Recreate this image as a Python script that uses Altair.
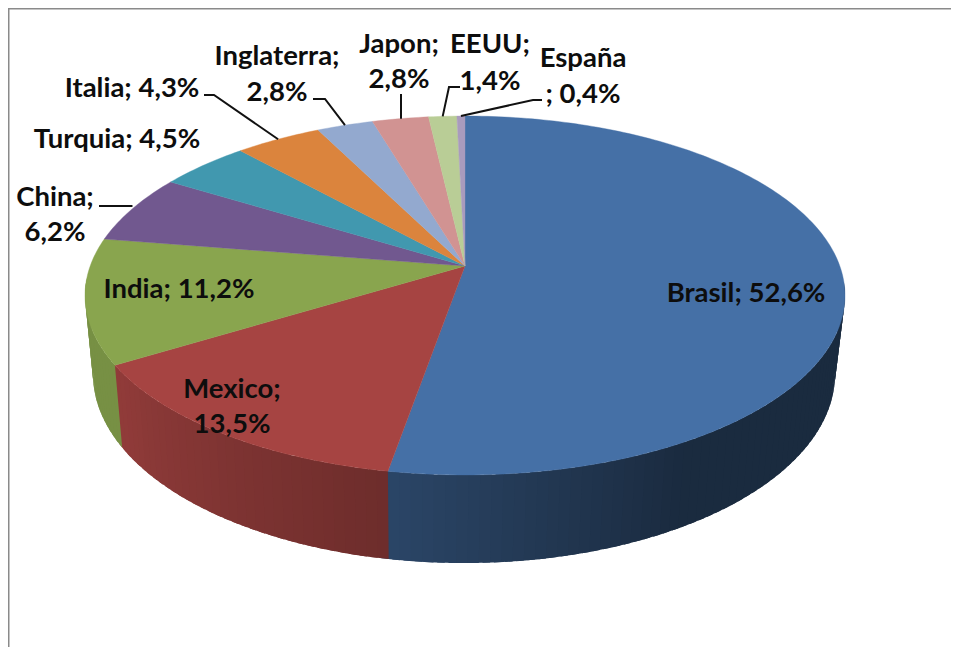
import math
import altair as alt

# --- values ---
paises = ["Brasil", "Mexico", "India", "China", "Turquia", "Italia", "Inglaterra", "Japon", "EEUU", "España"]
porcentajes = [52.6, 13.5, 11.2, 6.2, 4.5, 4.3, 2.8, 2.8, 1.4, 0.4]
colores = ["#4570a6", "#a64442", "#89a54e", "#71588f", "#4198af", "#db843d", "#93a9cf", "#d19392", "#b9cd96", "#a99bbd"]

# --- layout (page pixels; the canvas starts 8px in) ---
OFF = 8
K = -0.1643
TOP = dict(cx=465.0, cy=266.0, a=374.8, b=174.6)
BOT = dict(cx=464.0, cy=343.0, a=366.0, b=183.9)
FONT = "Lato"
FSIZE = 27.5


def rim(theta_deg, face):
    t = math.radians(theta_deg)
    u, v = math.sin(t), -math.cos(t)
    den = 1 + K * v
    return [round(face["cx"] + face["a"] * u / den - OFF, 2),
            round(face["cy"] + face["b"] * v / den - OFF, 2)]


def shade(hex_color, f):
    r, g, b = (int(hex_color[i:i + 2], 16) for i in (1, 3, 5))
    return "#%02x%02x%02x" % (round(r * f), round(g * f), round(b * f))


def wall_factor(theta):
    if theta < 150:
        return 0.38
    if theta < 190:
        return 0.38 + (theta - 150) / 40 * 0.24
    if theta < 235:
        return 0.66 + (theta - 190) / 45 * 0.20
    return 0.87


def feature(kind, coords, color):
    return {"type": "Feature", "properties": {"color": color},
            "geometry": {"type": kind, "coordinates": coords}}


total = sum(porcentajes)
edges = [0.0]
for p in porcentajes:
    edges.append(edges[-1] + p / total * 360)

# wall strips, each overlapping the next so no seam shows; later strips paint over
wall = []
for i, col in enumerate(colores):
    a0, a1 = edges[i], edges[i + 1]
    lo, hi = max(a0, 95), min(a1, 265)
    if hi <= lo:
        continue
    n = max(1, int(math.ceil((hi - lo) / 1.5)))
    for j in range(n):
        t0 = lo + (hi - lo) * j / n
        t1 = min(hi + 1.0, lo + (hi - lo) * (j + 1) / n + 1.0)
        tm = (t0 + t1 - 1.0) / 2
        arc = [t0, (t0 + t1) / 2, t1]
        ring = [rim(t, TOP) for t in arc] + [rim(t, BOT) for t in reversed(arc)]
        ring.append(ring[0])
        wall.append(feature("Polygon", [ring], shade(col, wall_factor(tm))))

# top face
tops = []
apex = [TOP["cx"] - OFF, TOP["cy"] - OFF]
for i, col in enumerate(colores):
    a0, a1 = edges[i], edges[i + 1]
    n = max(2, int(math.ceil((a1 - a0) / 1.0)))
    ring = [apex] + [rim(a0 + (a1 - a0) * j / n, TOP) for j in range(n + 1)] + [apex]
    tops.append(feature("Polygon", [ring], col))

# leader lines: label elbow(s), ending on the rim at the slice's middle
elbows = {
    "China": [(99, 206)],
    "Italia": [(204, 95), (214, 95)],
    "Inglaterra": [(313, 99), (325, 99)],
    "Japon": [(401, 94)],
    "EEUU": [(460, 87), (449, 87)],
    "España": [(542, 100), (533, 100)],
}
leaders = []
for i, name in enumerate(paises):
    if name in elbows:
        pts = [[x - OFF, y - OFF] for x, y in elbows[name]]
        end = rim((edges[i] + edges[i + 1]) / 2, TOP)
        if name == "China":
            end = [end[0], pts[0][1]]
        if name == "Japon":
            end = [pts[0][0], end[1]]
        leaders.append(feature("LineString", pts + [end], "#111111"))

# label lines: (text, centre x, middle y)
val = {n: f"{p:.1f}".replace(".", ",") + "%" for n, p in zip(paises, porcentajes)}
rows = [
    (f"Brasil; {val['Brasil']}", 746, 294),
    (f"India; {val['India']}", 179, 290),
    ("Mexico;", 232, 390), (val["Mexico"], 232, 425),
    ("China;", 55, 198), (val["China"], 55, 233),
    (f"Turquia; {val['Turquia']}", 117, 140),
    (f"Italia; {val['Italia']}", 132, 89),
    ("Inglaterra;", 277, 57), (val["Inglaterra"], 277, 93),
    ("Japon;", 399, 45), (val["Japon"], 399, 80),
    ("EEUU;", 490, 45), (val["EEUU"], 490, 82),
    ("España", 583, 59), (f"; {val['España']}", 583, 95),
]
label_data = [{"t": t, "px": x - OFF, "py": y - OFF} for t, x, y in rows]

proj = dict(type="identity", scale=1, translate=[0, 0])


def geo(features):
    return alt.Chart(alt.InlineData(values={"type": "FeatureCollection", "features": features},
                                    format=alt.DataFormat(type="json", property="features")))


fill_enc = alt.Color("properties.color:N", scale=None, legend=None)
stroke_enc = alt.Stroke("properties.color:N", scale=None, legend=None)

wall_layer = geo(wall).mark_geoshape(strokeWidth=0).encode(color=fill_enc).project(**proj)
top_layer = geo(tops).mark_geoshape(strokeWidth=0.4).encode(color=fill_enc, stroke=stroke_enc).project(**proj)
leader_layer = geo(leaders).mark_geoshape(filled=False, stroke="#111111", strokeWidth=2).project(**proj)

labels = alt.Chart(alt.Data(values=label_data)).mark_text(
    font=FONT, fontSize=FSIZE, fontWeight="bold", color="#0d0d0d", align="center", baseline="middle"
).encode(
    x=alt.X("px:Q", scale=None, axis=None),
    y=alt.Y("py:Q", scale=None, axis=None),
    text="t:N",
)

frame_left = alt.Chart(alt.Data(values=[{"a": 1}])).mark_rule(color="#8a8a8a", strokeWidth=2).encode(
    x=alt.value(0.5), y=alt.value(0), y2=alt.value(647))
frame_top = alt.Chart(alt.Data(values=[{"a": 1}])).mark_rule(color="#8a8a8a", strokeWidth=2).encode(
    y=alt.value(0.5), x=alt.value(0), x2=alt.value(951))

chart = alt.layer(wall_layer, top_layer, leader_layer, labels, frame_left, frame_top).properties(
    width=943, height=639, padding=0, background="white",
    autosize=alt.AutoSizeParams(type="none"),
).configure_view(stroke=None)

chart.save("out.html", embed_options={"renderer": "svg", "actions": False})
